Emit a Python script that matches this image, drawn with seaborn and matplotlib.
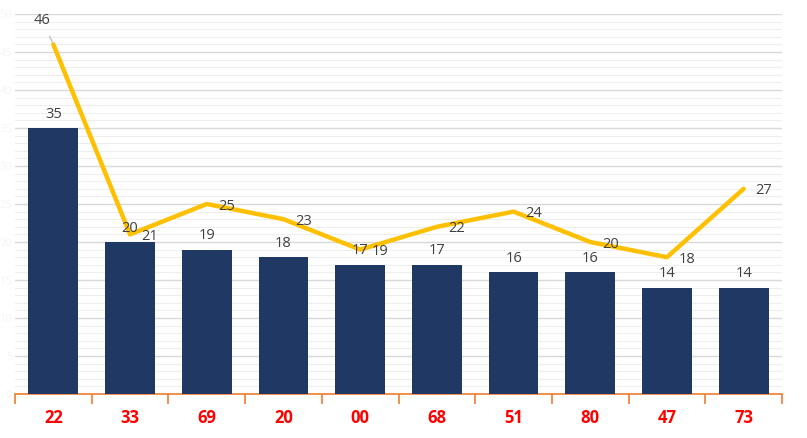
import numpy as np
import matplotlib
matplotlib.use("Agg")
import matplotlib.pyplot as plt
import seaborn as sns
from matplotlib.ticker import MultipleLocator

categories = ["22", "33", "69", "20", "00", "68", "51", "80", "47", "73"]
bar_values = [35, 20, 19, 18, 17, 17, 16, 16, 14, 14]
line_values = [46, 21, 25, 23, 19, 22, 24, 20, 18, 27]

sns.set_theme(style="white")
plt.rcParams['font.family'] = ['Open Sans', 'DejaVu Sans']

fig = plt.figure(figsize=(8.07, 4.38), dpi=100)
ax = fig.add_axes([15/807, 44/438, (782-15)/807, (394-14)/438])

sns.barplot(x=categories, y=bar_values, color="#203864", saturation=1,
            width=0.65, linewidth=0, edgecolor="none", ax=ax, zorder=3)
xs = np.arange(len(categories))
sns.lineplot(x=xs, y=line_values, color="#FFC000", linewidth=3.2, ax=ax,
             zorder=4)

ax.set_xlim(-0.5, len(categories) - 0.5)
ax.set_ylim(0, 50)
ax.yaxis.set_major_locator(MultipleLocator(5))
ax.yaxis.set_minor_locator(MultipleLocator(1))
ax.grid(axis='y', which='major', color='#d9d9d9', linewidth=1.0, zorder=0)
ax.grid(axis='y', which='minor', color='#eeeeee', linewidth=0.8, zorder=0)
ax.set_axisbelow(True)
ax.tick_params(axis='y', which='both', length=0, labelsize=8, labelcolor='#f5f5f5', pad=2)
ax.set_xlabel("")
ax.set_ylabel("")

for s in ['top', 'right', 'left']:
    ax.spines[s].set_visible(False)
ax.spines['bottom'].set_color('#ED7D31')
ax.spines['bottom'].set_linewidth(1.2)

ax.set_xticks(xs)
ax.set_xticklabels(categories)
ax.set_xticks(np.arange(-0.5, len(categories) + 0.5, 1), minor=True)
ax.tick_params(axis='x', which='major', bottom=True, length=0, pad=11, labelsize=12,
               labelcolor='#FF0000')
ax.tick_params(axis='x', which='minor', bottom=True, length=7, width=1.2,
               color='#ED7D31', direction='out')
for lbl in ax.get_xticklabels():
    lbl.set_fontweight('bold')

txt_color = '#404040'
fs = 10.5
for i, v in enumerate(bar_values):
    ax.annotate(str(v), (i, v), xytext=(0, 14), textcoords='offset pixels',
                ha='center', va='center', fontsize=fs, color=txt_color, zorder=6)

for i, v in enumerate(line_values):
    if i == 0:
        ax.annotate(str(v), (i, v), xytext=(-11, 24), textcoords='offset pixels',
                    ha='center', va='center', fontsize=fs, color=txt_color, zorder=6,
                    arrowprops=dict(arrowstyle='-', color='#bfbfbf', lw=0.9,
                                    shrinkA=4, shrinkB=1))
    else:
        ax.annotate(str(v), (i, v), xytext=(20, -2), textcoords='offset pixels',
                    ha='center', va='center', fontsize=fs, color=txt_color, zorder=6)

fig.savefig("out.png", dpi=100)
